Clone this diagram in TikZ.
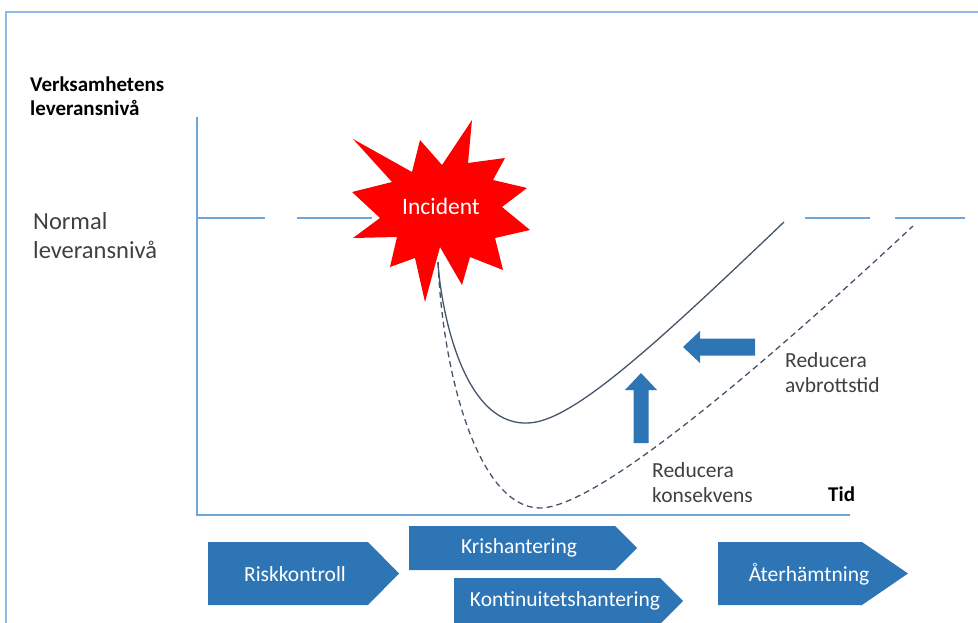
\documentclass[tikz,border=0pt]{standalone}
\usepackage{fontspec}
\setmainfont{Carlito}
\definecolor{framec}{HTML}{8DB9E4}
\definecolor{axisc}{HTML}{6FA6DA}
\definecolor{curvec}{HTML}{44546A}
\definecolor{blockc}{HTML}{2E75B6}
\definecolor{textc}{HTML}{404040}
\definecolor{starc}{HTML}{FF0000}
\begin{document}
\begin{tikzpicture}[x=1pt,y=-1pt,
  axisline/.style={draw=axisc,line width=1.6pt},
  levelline/.style={draw=axisc,line width=1.6pt},
  curveline/.style={draw=curvec,line width=1.3pt},
  curvedash/.style={draw=curvec,line width=1.3pt,dash pattern=on 6pt off 4pt},
  blockarrow/.style={fill=blockc,draw=none},
  chevron/.style={fill=blockc,draw=none},
  chevtext/.style={text=white,inner sep=0pt,font=\fontsize{21.5}{24}\selectfont},
  lbl/.style={text=textc,anchor=west,inner sep=0pt,font=\fontsize{21.5}{24}\selectfont},
  boldlbl/.style={text=black,anchor=west,inner sep=0pt,font=\fontsize{21}{24}\selectfont\bfseries}]
\useasboundingbox (0,0) rectangle (978,623);
\clip (0,0) rectangle (978,623);
% frame
\draw[framec,line width=2.5pt] (6,640) -- (6,12) -- (990,12);
% axes
\coordinate (ytop) at (197,117);
\coordinate (origin) at (197,515);
\coordinate (xend) at (850,515);
\draw[axisline] (ytop) -- (origin) -- (xend);
% normal level dashes
\coordinate (n1a) at (197,218); \coordinate (n1b) at (265,218);
\coordinate (n2a) at (297,218); \coordinate (n2b) at (372,218);
\coordinate (n3a) at (805,218); \coordinate (n3b) at (870,218);
\coordinate (n4a) at (895,218); \coordinate (n4b) at (965,218);
\draw[levelline] (n1a) -- (n1b);
\draw[levelline] (n2a) -- (n2b);
\draw[levelline] (n3a) -- (n3b);
\draw[levelline] (n4a) -- (n4b);
% curves
\coordinate (start) at (438,262);
\coordinate (smin) at (527,423);
\coordinate (send) at (784,222);
\coordinate (dmin) at (540,508);
\coordinate (dend) at (913,226);
\draw[curvedash] (start) .. controls (443,380) and (480,508) .. (dmin)
  .. controls (600,508) and (780,350) .. (dend);
\draw[curveline] (start) .. controls (440,300) and (460,425) .. (smin)
  .. controls (570,423) and (650,350) .. (send);
% star
\fill[starc] (352,192) -- (392,182) -- (353,139) -- (412,172) -- (420,140)
  -- (442,165) -- (472,120) -- (468,163) -- (505,158) -- (493,180)
  -- (527,188) -- (502,207) -- (530,230) -- (495,238) -- (503,270)
  -- (470,257) -- (462,285) -- (440,247) -- (425,302) -- (415,258)
  -- (390,267) -- (397,237) -- (353,238) -- (380,218) -- cycle;
\node[text=white,font=\fontsize{23.5}{26}\selectfont,inner sep=0pt] (incident) at (441,206) {Incident};
% block arrows
\fill[blockarrow] (633.5,443) -- (648.5,443) -- (648.5,390) -- (657,390)
  -- (641,373) -- (625,390) -- (633.5,390) -- cycle;
\fill[blockarrow] (755,338.5) -- (755,355.5) -- (700,355.5) -- (700,363)
  -- (683,347) -- (700,331) -- (700,338.5) -- cycle;
% labels
\node[boldlbl] (vl1) at (30,84) {Verksamhetens};
\node[boldlbl] (vl2) at (30,108) {leveransnivå};
\node[lbl,font=\fontsize{24.5}{27}\selectfont] (nl1) at (33,221) {Normal};
\node[lbl,font=\fontsize{24.5}{27}\selectfont] (nl2) at (33,250) {leveransnivå};
\node[lbl] (ra1) at (785,360) {Reducera};
\node[lbl] (ra2) at (785,385) {avbrottstid};
\node[lbl] (rk1) at (652,470) {Reducera};
\node[lbl] (rk2) at (652,495) {konsekvens};
\node[boldlbl] (tid) at (828,494) {Tid};
% chevrons
\fill[chevron] (208,542) -- (368,542) -- (399,573.5) -- (368,605) -- (208,605) -- cycle;
\node[chevtext] (risk) at (295,574) {Riskkontroll};
\fill[chevron] (409,526) -- (615,526) -- (637,548) -- (615,570) -- (409,570) -- cycle;
\node[chevtext] (kris) at (519,548) {Krishantering};
\fill[chevron] (454,578) -- (660,578) -- (683,601) -- (660,624) -- (454,624) -- cycle;
\node[chevtext] (kont) at (565,601) {Kontinuitetshantering};
\fill[chevron] (718,542) -- (862,542) -- (908,573.5) -- (862,605) -- (718,605) -- cycle;
\node[chevtext] (ater) at (809,574) {Återhämtning};
\end{tikzpicture}
\end{document}
